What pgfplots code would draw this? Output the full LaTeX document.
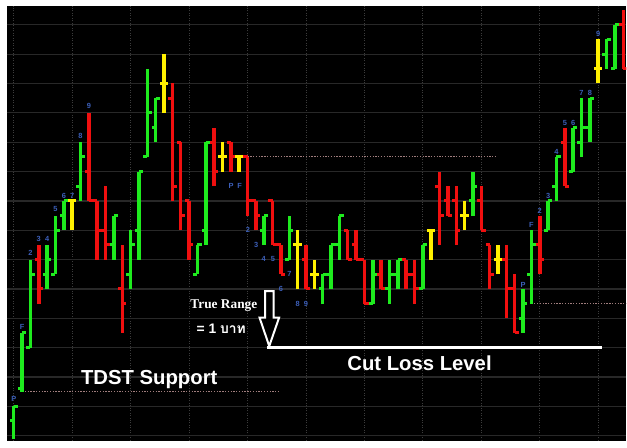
\documentclass[border=0pt]{standalone}
\usepackage{fontspec}
\setmainfont{Liberation Sans}
\newfontfamily\serifbf{Liberation Serif}
\newfontfamily\thaifont[Script=Thai]{Loma}
\usepackage{pgfplots}
\usepackage{pgfplotstable}
\pgfplotsset{compat=1.18}
\definecolor{bgreen}{RGB}{30,235,30}
\definecolor{bred}{RGB}{240,15,15}
\definecolor{byellow}{RGB}{255,240,0}
\definecolor{lblue}{RGB}{60,95,185}
\definecolor{dotc}{RGB}{160,125,125}
\definecolor{gridh}{RGB}{40,40,40}
\definecolor{gridv}{RGB}{60,60,60}

% i O H L C
\pgfplotstableread{
i O H L C
0 0.5 1 -0.1 1
1 1.6 3.5 1.5 3.5
2 3 6 3 5.5
4 5.5 6.5 5 6
5 5.5 7.5 5.5 7
6 7.5 8 7 8
8 8.5 10 8 9.5
12 6.5 7.5 6 7.5
14 5.5 7 5 6.5
15 7 9 6 9
16 9.5 12.5 9.5 11
17 10.5 11.5 10 11.5
22 5.5 6.5 5.5 6.5
23 7 10 6.5 10
30 7 7.5 6.5 7.5
33 6 7.5 6 7
37 5 5.5 4.5 5.5
38 5.5 6.5 5 6.5
39 6.5 7.5 6 7.5
43 4.5 6 4.5 5.5
45 5 6 4.5 5.5
46 5.5 6 5 6
49 5 6.5 5 6.5
55 8 9 7.5 8.5
61 4 5 3.5 4.5
62 5.5 7 4.5 6.5
64 7 8 7 8
65 8.5 9.5 8 9.5
67 9 10.5 9 10.5
68 10 11.5 9.5 10.5
69 10.5 11.5 10 11.5
71 13 13.5 12.5 13.5
72 12.5 14 12.5 14
}\greentab

\pgfplotstableread{
i O H L C
3 6 6.5 4.5 5
9 9 11 8 8
10 8 8 6 7
11 7 8.5 6 6.5
13 5 6.5 3.5 4.5
19 11.5 12 8 8.5
20 10 10 7 7.5
21 8 8 6 6.5
24 10 10.5 8.5 9
26 10 10 9 9.5
28 9.5 9.5 7.5 8
29 8 8 7 7.5
31 8 8 6.5 6.5
32 6.5 6.5 5.5 5.5
35 6 6.5 5 5
40 7 7 6 6
41 6.5 7 6 6
42 6 6 4.5 4.5
44 5.5 6 5 5
47 6 6 5 5.5
48 5.5 6 4.5 5
51 8.5 9 6.5 7.5
52 8 8.5 7.5 7.5
53 8 8.5 6.5 7
56 8 8.5 7 7
57 6.5 6.5 5 5.5
59 6 6.5 4 5
60 5 5.5 3.5 3.5
63 6.5 7.5 5.5 6
66 10 10.5 8.5 8.5
73 14 14.5 12.5 12.5
}\redtab

\pgfplotstableread{
i O H L C
7 8 8 7 8
18 12 13 11 12
25 9.5 10 9 9.5
27 9.5 9.5 9 9.5
34 6.5 7 5 6.5
36 5.5 6 5 5.5
50 7 7 6 7
54 7.5 8 7 7.5
58 6 6.5 5.5 6
70 12.5 13.5 12 12.5
}\yellowtab

\pgfplotstableread{
x y lab
0 1.24 P
1 3.71 F
2 6.22 2
3 6.69 3
4 6.69 4
5 7.71 5
6 8.18 6
7 8.18 7
8 10.21 8
9 11.23 9
26.04 8.51 P
27.04 8.51 F
28.06 7.0 2
29.05 6.5 3
29.93 6.01 4
31.03 6.01 5
31.99 5.0 6
33.02 5.52 7
34.0 4.5 8
35.0 4.5 9
61 5.14 P
62 7.17 F
63 7.66 2
64 8.17 3
65 9.68 4
66 10.66 5
67 10.66 6
68 11.69 7
69 11.69 8
70 13.68 9
}\labtab

\begin{document}
\begin{tikzpicture}
\fill[white] (0,0) rectangle (627bp,444bp);
\begin{axis}[
  at={(3bp,0bp)}, anchor=south west,
  scale only axis, width=624bp, height=438bp,
  xmin=-0.832, xmax=73.37, ymin=-0.179, ymax=14.643,
  axis background/.style={fill=black},
  axis line style={draw=none},
  xtick={0,7,...,70}, ytick={0,1,...,14},
  xticklabels={}, yticklabels={},
  major tick length=0pt,
  xmajorgrids, ymajorgrids,
  x grid style={gridv, line width=0.8bp, dash pattern=on 1bp off 1.5bp},
  y grid style={gridh, line width=1.3bp},
]
% dotted levels
\addplot[dotc, line width=1.2bp, dash pattern=on 1.3bp off 1.5bp] coordinates {(1,1.5) (31.75,1.5)};
\addplot[dotc, line width=1.2bp, dash pattern=on 1.3bp off 1.5bp] coordinates {(28,9.5) (57.8,9.5)};
\addplot[dotc, line width=1.2bp, dash pattern=on 1.3bp off 1.5bp] coordinates {(62,4.5) (73.4,4.5)};
% cut loss line
\addplot[white, line width=3bp] coordinates {(30.32,3.0) (70.47,3.0)};

% green bars
\addplot[bgreen, line width=3.5bp, quiver={u=0, v=\thisrow{H}-\thisrow{L}}] table[x=i, y=L] {\greentab};
\addplot[bgreen, line width=3bp, quiver={u=-0.5, v=0}] table[x=i, y=O] {\greentab};
\addplot[bgreen, line width=3bp, quiver={u=0.5, v=0}] table[x=i, y=C] {\greentab};
% red bars
\addplot[bred, line width=3.5bp, quiver={u=0, v=\thisrow{H}-\thisrow{L}}] table[x=i, y=L] {\redtab};
\addplot[bred, line width=3bp, quiver={u=-0.5, v=0}] table[x=i, y=O] {\redtab};
\addplot[bred, line width=3bp, quiver={u=0.5, v=0}] table[x=i, y=C] {\redtab};
% yellow bars
\addplot[byellow, line width=3.5bp, quiver={u=0, v=\thisrow{H}-\thisrow{L}}] table[x=i, y=L] {\yellowtab};
\addplot[byellow, line width=3bp, quiver={u=-0.5, v=0}] table[x=i, y=O] {\yellowtab};
\addplot[byellow, line width=3bp, quiver={u=0.5, v=0}] table[x=i, y=C] {\yellowtab};

% count labels
\addplot[draw=none, nodes near coords, point meta=explicit symbolic,
  every node near coord/.append style={anchor=center, inner sep=0pt, text=lblue, font=\fontsize{7.5}{8}\selectfont\bfseries}]
  table[x=x, y=y, meta=lab] {\labtab};

% arrow
\draw[white, line width=2bp, fill=black, line join=miter]
  (axis cs:30.12,4.92) -- (axis cs:31.12,4.92) -- (axis cs:31.12,4.02) -- (axis cs:31.78,4.02)
  -- (axis cs:30.6,3.05) -- (axis cs:29.44,4.02) -- (axis cs:30.12,4.02) -- cycle;

\node[text=white, font=\fontsize{20.5}{22}\selectfont\bfseries, inner sep=0pt] at (axis cs:16.23,1.92) {TDST Support};
\node[text=white, font=\fontsize{20.5}{22}\selectfont\bfseries, inner sep=0pt] at (axis cs:48.6,2.45) {Cut Loss Level};
\node[text=white, font=\serifbf\fontsize{13.5}{15}\selectfont\bfseries, inner sep=0pt] at (axis cs:25.17,4.42) {True Range};
\node[text=white, font=\fontsize{14}{16}\selectfont\bfseries, inner sep=0pt] at (axis cs:24.85,3.63) {= 1 {\thaifont\bfseries บาท}};
\end{axis}
\end{tikzpicture}
\end{document}
